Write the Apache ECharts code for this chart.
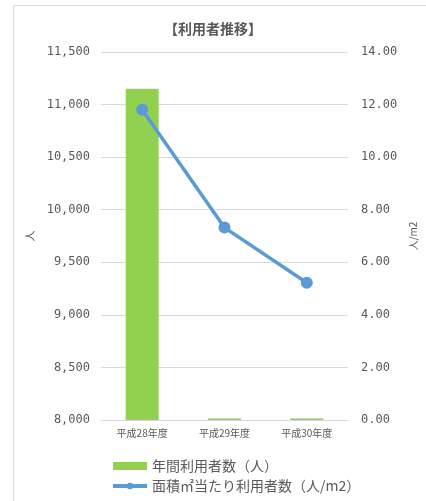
<!DOCTYPE html>
<html>
<head>
<meta charset="utf-8">
<script src="https://cdn.jsdelivr.net/npm/echarts@6/dist/echarts.min.js"></script>
<style>
html,body{margin:0;padding:0;background:#fff;}
#c{width:426px;height:501px;}
</style>
</head>
<body>
<div id="c"></div>
<script>
const title = '【利用者推移】';
const categories = ['平成28年度', '平成29年度', '平成30年度'];
const barName = '年間利用者数（人）';
const lineName = '面積㎡当たり利用者数（人/m2）';
const barValues = [11150, 8014, 8014];
const lineValues = [11.8, 7.32, 5.22];
const leftTicks = { min: 8000, max: 11500, interval: 500 };
const rightTicks = { min: 0, max: 14, interval: 2 };

const FONT = '"Noto Sans CJK JP", "Noto Sans", sans-serif';
const NUMFONT = '"DejaVu Sans Mono", monospace';
const TXT = '#595959';
const chart = echarts.init(document.getElementById('c'), null, { renderer: 'canvas' });
chart.setOption({
  backgroundColor: '#fff',
  animation: false,
  textStyle: { fontFamily: FONT },
  graphic: [
    { type: 'rect', shape: { x: 13.5, y: 5.5, width: 440, height: 520 }, style: { fill: 'none', stroke: '#d9d9d9', lineWidth: 1 }, silent: true }
  ],
  title: {
    text: title, left: 'center', top: 17,
    textStyle: { fontFamily: FONT, fontSize: 14, fontWeight: 'bold', color: TXT }
  },
  legend: {
    orient: 'vertical', left: 106, top: 454, itemGap: 6,
    itemWidth: 34, itemHeight: 8,
    textStyle: { fontFamily: FONT, fontSize: 14, color: TXT },
    data: [
      { name: barName, icon: 'rect' },
      { name: lineName, lineStyle: { width: 4 } }
    ]
  },
  grid: { left: 101, right: 69, top: 52, bottom: 81 },
  xAxis: {
    type: 'category', data: categories,
    axisLine: { lineStyle: { color: '#d9d9d9' } },
    axisTick: { show: false },
    axisLabel: { color: TXT, fontSize: 10, margin: 8, fontFamily: FONT }
  },
  yAxis: [
    {
      type: 'value', min: leftTicks.min, max: leftTicks.max, interval: leftTicks.interval,
      name: '人', nameLocation: 'middle', nameGap: 64,
      nameTextStyle: { color: TXT, fontSize: 11, fontFamily: FONT },
      axisLine: { show: false }, axisTick: { show: false },
      splitLine: { lineStyle: { color: '#d9d9d9', width: 1 } },
      axisLabel: { color: TXT, fontSize: 12, margin: 11, fontFamily: NUMFONT,
        formatter: v => v.toLocaleString('en-US') }
    },
    {
      type: 'value', min: rightTicks.min, max: rightTicks.max, interval: rightTicks.interval,
      name: '人/m2', nameLocation: 'middle', nameGap: 50,
      nameTextStyle: { color: TXT, fontSize: 10, fontFamily: FONT },
      axisLine: { show: false }, axisTick: { show: false },
      splitLine: { show: false },
      axisLabel: { color: TXT, fontSize: 12, margin: 13, fontFamily: NUMFONT,
        formatter: v => v.toFixed(2) }
    }
  ],
  series: [
    {
      name: barName, type: 'bar', data: barValues, yAxisIndex: 0,
      barWidth: '40%', itemStyle: { color: '#92d050' }
    },
    {
      name: lineName, type: 'line', data: lineValues, yAxisIndex: 1,
      symbol: 'circle', symbolSize: 12,
      lineStyle: { color: '#5b9bd5', width: 3.5 },
      itemStyle: { color: '#5b9bd5' }
    }
  ]
});
</script>
</body>
</html>
